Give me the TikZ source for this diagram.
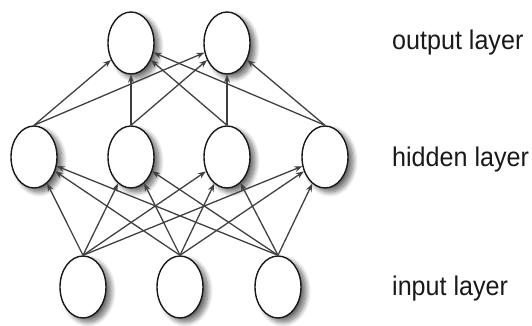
\documentclass[tikz,border=0pt]{standalone}
\usepackage{fontspec}
\setmainfont{Liberation Sans}
\usetikzlibrary{shapes.geometric,arrows.meta,shadows.blur}
\tikzset{
  neuron/.style={ellipse, draw=black!90, line width=1.4pt, fill=white,
    minimum width=46pt, minimum height=62pt, inner sep=0pt,
    blur shadow={shadow xshift=5pt, shadow yshift=-4pt, shadow blur steps=12, shadow blur radius=5pt, shadow opacity=60}},
  conn/.style={draw=black!75, line width=1.3pt, -{Stealth[length=8pt,width=6pt]}},
  lbl/.style={anchor=base west, inner sep=0pt, font=\fontsize{27}{30}\selectfont, xscale=0.93, text=black!90}
}
\begin{document}
\begin{tikzpicture}[x=1pt,y=-1pt]
\useasboundingbox (0,0) rectangle (532,326);
% output layer
\node[neuron] (o1) at (131,43) {};
\node[neuron] (o2) at (227,43) {};
% hidden layer
\node[neuron] (h1) at (34,157) {};
\node[neuron] (h2) at (131,157) {};
\node[neuron] (h3) at (227,157) {};
\node[neuron] (h4) at (325,157) {};
% input layer
\node[neuron] (i1) at (83,287) {};
\node[neuron] (i2) at (180,287) {};
\node[neuron] (i3) at (278,287) {};
% connections hidden -> output
\foreach \h in {h1,h2,h3,h4}
  \foreach \o in {o1,o2}
    \draw[conn] (\h.north) -- (\o);
% connections input -> hidden
\foreach \i in {i1,i2,i3}
  \foreach \h in {h1,h2,h3,h4}
    \draw[conn] (\i.north) -- (\h);
% labels
\node[lbl] (lo) at (392,50) {output layer};
\node[lbl] (lh) at (392,166) {hidden layer};
\node[lbl] (li) at (392,295) {input layer};
\end{tikzpicture}
\end{document}
